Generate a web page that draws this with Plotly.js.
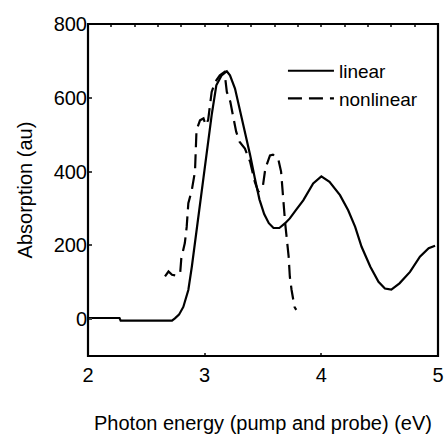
<!DOCTYPE html>
<html>
<head>
<meta charset="utf-8">
<script src="https://cdn.plot.ly/plotly-3.0.1.min.js"></script>
<style>html,body{margin:0;padding:0;background:#fff;}#chart{width:446px;height:436px;}</style>
</head>
<body>
<div id="chart"></div>
<script>
const linearX = [2.00, 2.27, 2.28, 2.72, 2.745, 2.78, 2.817, 2.86, 2.89, 2.92, 2.945, 2.974, 3.017, 3.06, 3.10, 3.146, 3.19, 3.217, 3.26, 3.30, 3.345, 3.39, 3.43, 3.47, 3.51, 3.55, 3.59, 3.64, 3.69, 3.73, 3.785, 3.845, 3.93, 4.00, 4.07, 4.16, 4.23, 4.29, 4.345, 4.42, 4.49, 4.545, 4.60, 4.67, 4.76, 4.845, 4.92, 4.975];
const linearY = [3, 3, -4, -4, 2, 12, 33, 79, 142, 214, 286, 355, 462, 553, 634, 661, 672, 661, 625, 571, 508, 444, 382, 324, 285, 260, 247, 247, 260, 273, 297, 322, 368, 387, 372, 336, 295, 250, 196, 142, 101, 83, 80, 97, 128, 169, 192, 199];

const nonlinearX = [2.66, 2.69, 2.72, 2.76, 2.79, 2.80, 2.83, 2.846, 2.86, 2.89, 2.917, 2.93, 2.96, 2.99, 3.01, 3.03, 3.06, 3.09, 3.13, 3.17, 3.19, 3.22, 3.245, 3.27, 3.30, 3.345, 3.39, 3.43, 3.46, 3.50, 3.52, 3.56, 3.585, 3.63, 3.655, 3.67, 3.69, 3.72, 3.73, 3.745, 3.77, 3.785];
const nonlinearY = [116, 129, 120, 118, 125, 165, 206, 250, 314, 350, 400, 512, 539, 544, 526, 540, 616, 643, 661, 670, 616, 589, 548, 508, 480, 462, 426, 372, 345, 363, 408, 444, 446, 435, 400, 330, 260, 169, 115, 79, 33, 25];

const seriesNames = ["linear", "nonlinear"];
const xTicks = [2, 3, 4, 5];
const yTicks = [0, 200, 400, 600, 800];

const font = {family: "Liberation Sans, Arial, sans-serif", size: 20, color: "#000"};
const legendFont = {family: "Liberation Sans, Arial, sans-serif", size: 19, color: "#000"};

const data = [
  {x: linearX, y: linearY, name: seriesNames[0], mode: "lines", type: "scatter",
   line: {color: "#000", width: 2.2}},
  {x: nonlinearX, y: nonlinearY, name: seriesNames[1], mode: "lines", type: "scatter",
   line: {color: "#000", width: 2.2, dash: "14px,7px"}},
  {x: [2, 5], y: [null, null], xaxis: "x2", yaxis: "y", showlegend: false, hoverinfo: "skip", mode: "lines"}
];

const layout = {
  width: 446, height: 436,
  margin: {l: 88, r: 8, t: 24, b: 80},
  paper_bgcolor: "#fff", plot_bgcolor: "#fff",
  font: font,
  showlegend: true,
  legend: {x: 0.557, y: 0.916, xanchor: "left", yanchor: "top", bgcolor: "rgba(0,0,0,0)",
           font: legendFont, tracegroupgap: 0, itemwidth: 46},
  xaxis: {
    range: [2, 5], tickvals: xTicks, ticks: "inside", ticklen: 3, tickwidth: 2, ticklabelstandoff: 5,
    showline: false, zeroline: false, showgrid: false, automargin: false,
    title: {text: "Photon energy (pump and probe) (eV)", font: font, standoff: 30},
    tickfont: font
  },
  xaxis2: {
    range: [2, 5], overlaying: "x", side: "top", dtick: 0.2, tick0: 2, ticks: "inside", ticklen: 3, tickwidth: 2,
    showticklabels: false, showline: false, showgrid: false, zeroline: false
  },
  yaxis: {
    range: [-100, 800], tickvals: yTicks, ticks: "inside", ticklen: 4, tickwidth: 2,
    showline: false, zeroline: false, showgrid: false, automargin: false,
    title: {text: "Absorption (au)", font: font, standoff: 15},
    tickfont: font
  },
  shapes: [
    {type: "rect", xref: "paper", yref: "paper", x0: 0, x1: 1, y0: 0, y1: 1,
     line: {color: "#000", width: 2.2}, fillcolor: "rgba(0,0,0,0)", layer: "above"}
  ]
};

Plotly.newPlot("chart", data, layout, {staticPlot: true, displayModeBar: false});
</script>
</body>
</html>
